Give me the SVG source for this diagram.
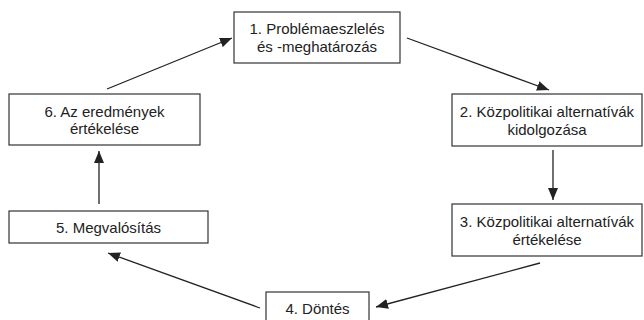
<svg xmlns="http://www.w3.org/2000/svg" width="644" height="320" viewBox="0 0 644 320">
<style>
.box{fill:#fff;stroke:#333;stroke-width:1.2}
.t{font-family:"Liberation Sans",Arial,sans-serif;font-size:15px;fill:#222;text-anchor:middle}
.c{stroke:#222;stroke-width:1.3;fill:none;marker-end:url(#ah)}
</style>
<defs>
<marker id="ah" viewBox="0 0 12 10" refX="12" refY="5" markerWidth="12" markerHeight="10" markerUnits="userSpaceOnUse" orient="auto">
<path d="M0,0 L12,5 L0,10 z" fill="#222"/>
</marker>
</defs>
<rect width="644" height="320" fill="#fff"/>
<g id="connectors">
<line class="c" x1="107" y1="89" x2="232" y2="38"/>
<line class="c" x1="407" y1="38" x2="549" y2="90"/>
<line class="c" x1="553" y1="150" x2="553" y2="200"/>
<line class="c" x1="540" y1="263" x2="376" y2="307"/>
<line class="c" x1="260" y1="308" x2="108" y2="253"/>
<line class="c" x1="99" y1="204" x2="99" y2="151"/>
</g>
<g id="n1"><rect class="box" x="234" y="12" width="166" height="51"/><text class="t" x="317" y="34">1. Problémaeszlelés</text><text class="t" x="317" y="52">és -meghatározás</text></g>
<g id="n2"><rect class="box" x="452" y="94" width="190" height="52"/><text class="t" x="547" y="117">2. Közpolitikai alternatívák</text><text class="t" x="547" y="134.5">kidolgozása</text></g>
<g id="n3"><rect class="box" x="452" y="204" width="190" height="52"/><text class="t" x="547" y="227">3. Közpolitikai alternatívák</text><text class="t" x="547" y="245">értékelése</text></g>
<g id="n4"><rect class="box" x="266" y="292" width="103" height="32"/><text class="t" x="317.5" y="313.5">4. Döntés</text></g>
<g id="n5"><rect class="box" x="9" y="211" width="199" height="32"/><text class="t" x="108.5" y="233">5. Megvalósítás</text></g>
<g id="n6"><rect class="box" x="9" y="94" width="191" height="51"/><text class="t" x="104.5" y="117">6. Az eredmények</text><text class="t" x="104.5" y="134">értékelése</text></g>
</svg>
